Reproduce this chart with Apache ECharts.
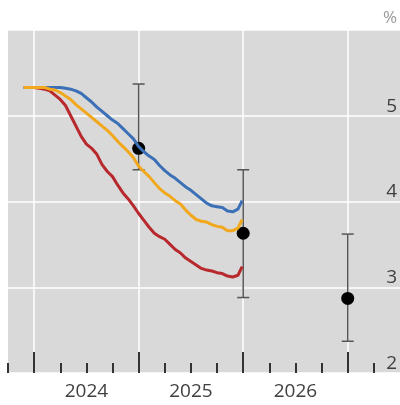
<!DOCTYPE html>
<html>
<head>
<meta charset="utf-8">
<script src="https://cdn.jsdelivr.net/npm/echarts@6/dist/echarts.min.js"></script>
<style>
  html, body { margin: 0; padding: 0; background: #fff; }
  #chart { width: 400px; height: 405px; }
</style>
</head>
<body>
<div id="chart"></div>
<script>
// 日期（小数年）
const dates = [
    2023.90, 2023.95, 2024.00, 2024.05, 2024.10, 2024.15, 2024.20, 2024.25, 2024.30, 2024.35,
    2024.40, 2024.45, 2024.50, 2024.55, 2024.60, 2024.65, 2024.70, 2024.75, 2024.80, 2024.85,
    2024.90, 2024.95, 2025.00, 2025.05, 2025.10, 2025.15, 2025.20, 2025.25, 2025.30, 2025.35,
    2025.40, 2025.45, 2025.50, 2025.55, 2025.60, 2025.65, 2025.70, 2025.75, 2025.80, 2025.85,
    2025.90, 2025.95, 2025.99
];

// 三条利率曲线
const blueRates = [
    5.33, 5.33, 5.33, 5.33, 5.33, 5.33, 5.33, 5.33, 5.32, 5.31,
    5.29, 5.26, 5.21, 5.16, 5.10, 5.05, 5.00, 4.95, 4.91, 4.85,
    4.79, 4.73, 4.64, 4.58, 4.53, 4.49, 4.42, 4.36, 4.31, 4.27,
    4.22, 4.17, 4.13, 4.08, 4.03, 3.98, 3.95, 3.94, 3.93, 3.89,
    3.88, 3.91, 4.01
];
const orangeRates = [
    5.33, 5.33, 5.33, 5.33, 5.33, 5.31, 5.30, 5.27, 5.23, 5.19,
    5.13, 5.08, 5.03, 4.98, 4.93, 4.88, 4.83, 4.77, 4.70, 4.64,
    4.58, 4.51, 4.41, 4.35, 4.29, 4.22, 4.15, 4.10, 4.06, 4.01,
    3.97, 3.90, 3.84, 3.79, 3.77, 3.76, 3.73, 3.71, 3.70, 3.66,
    3.66, 3.69, 3.79
];
const redRates = [
    5.33, 5.33, 5.33, 5.32, 5.31, 5.29, 5.24, 5.19, 5.12, 5.00,
    4.88, 4.76, 4.67, 4.62, 4.55, 4.43, 4.35, 4.29, 4.19, 4.10,
    4.03, 3.95, 3.86, 3.78, 3.70, 3.63, 3.59, 3.56, 3.50, 3.44,
    3.40, 3.34, 3.30, 3.26, 3.22, 3.20, 3.19, 3.17, 3.16, 3.13,
    3.12, 3.14, 3.24
];

// 年末预测点及区间
const forecastYears = [2025.0, 2026.0, 2027.0];
const forecastMid = [4.62, 3.63, 2.87];
const forecastLow = [4.37, 2.88, 2.37];
const forecastHigh = [5.37, 4.37, 3.62];

// 坐标轴刻度
const quarterTicks = [
    2023.75, 2024.0, 2024.25, 2024.5, 2024.75, 2025.0, 2025.25, 2025.5, 2025.75,
    2026.0, 2026.25, 2026.5, 2026.75, 2027.0, 2027.25
];
const yearTicks = [2024, 2025, 2026, 2027];
const yearLabels = [2024, 2025, 2026];

const chart = echarts.init(document.getElementById('chart'));

const toPairs = (vals) => dates.map((d, i) => [d, vals[i]]);

const lineSeries = (name, color, vals) => ({
    name: name,
    type: 'line',
    data: toPairs(vals),
    showSymbol: false,
    silent: true,
    lineStyle: { color: color, width: 3 },
    itemStyle: { color: color }
});

const option = {
    animation: false,
    textStyle: { fontFamily: 'Open Sans' },
    grid: {
        left: 8, right: 0, top: 30, bottom: 32,
        show: true,
        backgroundColor: '#d9d9d9',
        borderWidth: 0
    },
    xAxis: [
        {
            // 季度小刻度
            type: 'value',
            min: 2023.75,
            max: 2027.5,
            axisLine: { show: false },
            axisTick: {
                show: true, inside: true, length: 10,
                customValues: quarterTicks,
                lineStyle: { color: '#333', width: 2 }
            },
            axisLabel: { show: false },
            splitLine: { show: false }
        },
        {
            // 年份大刻度和标签
            type: 'value',
            min: 2023.75,
            max: 2027.5,
            position: 'bottom',
            axisLine: { show: false },
            axisTick: {
                show: true, inside: true, length: 21,
                customValues: yearTicks,
                lineStyle: { color: '#333', width: 2 }
            },
            axisLabel: {
                show: true,
                customValues: yearLabels.map(y => y + 0.5),
                formatter: v => String(Math.floor(v)),
                fontSize: 19,
                color: '#404040',
                margin: 9
            },
            splitLine: { show: true, lineStyle: { color: '#ffffff', width: 1.5 } }
        }
    ],
    yAxis: {
        type: 'value',
        position: 'right',
        min: 2,
        max: 6,
        interval: 1,
        name: '%',
        nameLocation: 'end',
        nameGap: 3,
        nameTextStyle: { color: '#999', fontSize: 17, align: 'right', padding: [0, 3, 0, 0] },
        axisLine: { show: false },
        axisTick: { show: false },
        axisLabel: {
            inside: true,
            showMaxLabel: false,
            verticalAlign: 'bottom',
            fontSize: 19,
            color: '#404040',
            margin: 3
        },
        splitLine: { show: true, lineStyle: { color: '#ffffff', width: 1.5 } }
    },
    series: [
        lineSeries('red', '#b7292d', redRates),
        lineSeries('blue', '#3b6fb6', blueRates),
        lineSeries('orange', '#f2a81d', orangeRates),
        {
            name: 'range',
            type: 'custom',
            silent: true,
            data: forecastYears.map((x, i) => [x, forecastLow[i], forecastHigh[i]]),
            renderItem: (params, api) => {
                const lo = api.coord([api.value(0), api.value(1)]);
                const hi = api.coord([api.value(0), api.value(2)]);
                const half = 6;
                const style = { stroke: '#555', lineWidth: 1.5 };
                return {
                    type: 'group',
                    children: [
                        { type: 'line', shape: { x1: lo[0], y1: lo[1], x2: hi[0], y2: hi[1] }, style: style },
                        { type: 'line', shape: { x1: lo[0] - half, y1: lo[1], x2: lo[0] + half, y2: lo[1] }, style: style },
                        { type: 'line', shape: { x1: hi[0] - half, y1: hi[1], x2: hi[0] + half, y2: hi[1] }, style: style }
                    ]
                };
            }
        },
        {
            name: 'forecast',
            type: 'scatter',
            silent: true,
            symbolSize: 13,
            itemStyle: { color: '#000', opacity: 1 },
            data: forecastYears.map((x, i) => [x, forecastMid[i]])
        }
    ]
};

chart.setOption(option);
</script>
</body>
</html>
